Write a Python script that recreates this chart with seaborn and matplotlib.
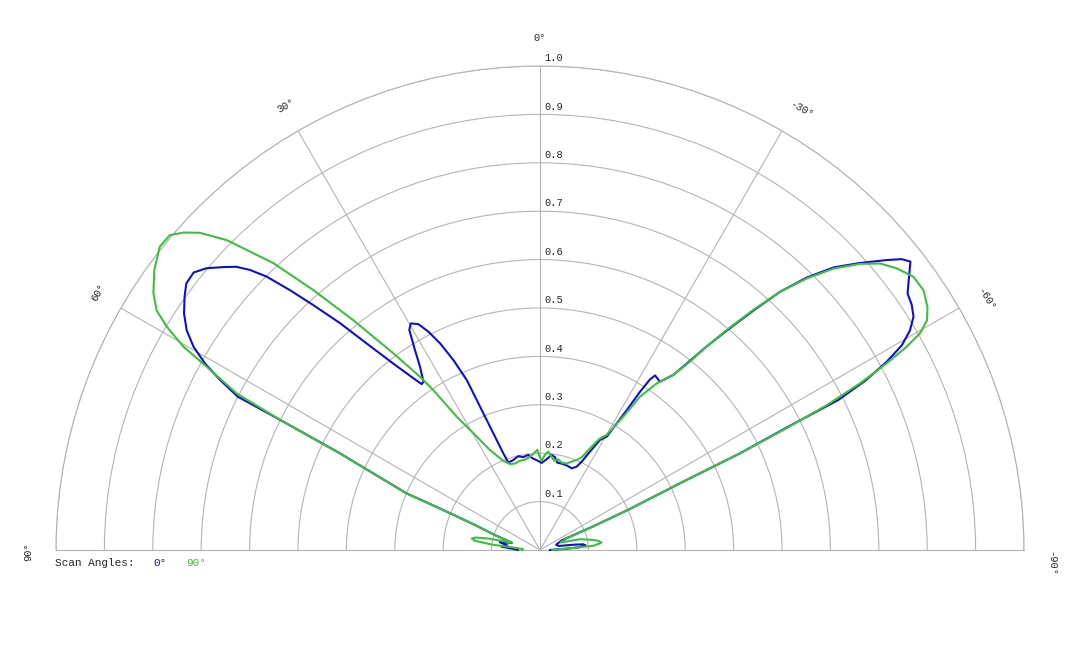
import numpy as np
import pandas as pd
import matplotlib
matplotlib.use('Agg')
import matplotlib.pyplot as plt
import seaborn as sns

# pattern: angle in degrees (positive = left), normalised level
scan0_deg = [90, 87, 85, 82, 79, 76.5, 75.5, 71.5, 69, 67.5, 67, 64.2, 63.4, 63.1, 62.0, 60.9,
             59.6, 58.1, 56.4, 54.5, 53.0, 51.3, 49.8, 48.2, 47.0, 46.0, 45.0, 43.9, 42.8, 41.4,
             40.0, 38.2, 36.4, 35.5, 34.7, 33.2, 31.8, 30.7, 29.7, 28.3, 27.1, 25.8, 24.5, 23.3,
             22.7, 21.8, 20.8, 19.9, 16.5, 13, 10.2, 7, 4.6, 1.7, -1.1, -4.2, -7, -9.2, -11.2,
             -14.8, -18, -21.2, -23.7, -25.3, -26.6, -28.6, -30.5, -31.8, -32.3, -32.8, -33.4,
             -35.5, -37.3, -38.4, -39.3, -40.4, -41.7, -42.9, -44.4, -46.1, -48.1, -50.1, -51.2,
             -52.1, -53.8, -55.1, -56.6, -58.0, -59.3, -60.5, -61.5, -62.5, -63.3, -63.6, -64.2,
             -64.5, -65.5, -66, -66, -72, -78, -81, -82.5, -84.5, -86, -87.5, -90]
scan0_r = [0.045, 0.06, 0.08, 0.068, 0.085, 0.065, 0.06, 0.10, 0.142, 0.22, 0.30, 0.46, 0.60, 0.70,
           0.749, 0.792, 0.830, 0.860, 0.883, 0.902, 0.915, 0.917, 0.902, 0.877, 0.858, 0.833,
           0.799, 0.745, 0.690, 0.625, 0.557, 0.490, 0.441, 0.421, 0.423, 0.453, 0.494, 0.529,
           0.539, 0.530, 0.507, 0.474, 0.431, 0.382, 0.321, 0.260, 0.214, 0.192, 0.194, 0.199,
           0.195, 0.198, 0.190, 0.185, 0.180, 0.188, 0.198, 0.194, 0.184, 0.184, 0.183, 0.181,
           0.188, 0.202, 0.223, 0.259, 0.272, 0.340, 0.387, 0.419, 0.432, 0.427, 0.455, 0.499,
           0.543, 0.595, 0.662, 0.728, 0.788, 0.842, 0.888, 0.934, 0.959, 0.970, 0.944, 0.926,
           0.920, 0.910, 0.889, 0.859, 0.815, 0.758, 0.690, 0.568, 0.459, 0.323, 0.20, 0.12,
           0.05, 0.035, 0.04, 0.07, 0.09, 0.095, 0.08, 0.05, 0.02]

scan90_deg = [90, 87, 85, 83.5, 82, 80.5, 79, 77.5, 76.5, 75.5, 71.5, 69, 67.5, 67, 64.2, 63.4,
              62.7, 61.2, 60.3, 59.1, 58, 56.4, 54, 51.4, 49.6, 48.3, 47, 45.3, 42.9, 41.1, 39.1,
              36.7, 34.7, 33.7, 32, 29.7, 26.6, 22.5, 19.2, 16.1, 12.6, 9.5, 6.6, 4, 1.5, 0.4,
              -1.1, -3, -4.8, -6.7, -8.9, -11.4, -13.9, -17.1, -19.7, -22.2, -24.2, -26.2, -28.1,
              -30.1, -32, -33.1, -35, -37.3, -38.5, -39.3, -40.3, -41.6, -42.9, -44.5, -46.2,
              -48.2, -49.9, -51.7, -53.8, -55.9, -57.9, -59.3, -60.3, -61, -61.7, -62.5, -63.2,
              -63.7, -64.2, -64.5, -65.5, -66, -66.5, -70, -75, -79, -81, -83.2, -85.4, -86.5,
              -88, -90]
scan90_r = [0.037, 0.035, 0.05, 0.10, 0.135, 0.143, 0.135, 0.11, 0.08, 0.06, 0.10, 0.142, 0.22,
            0.30, 0.46, 0.60, 0.705, 0.786, 0.848, 0.899, 0.934, 0.959, 0.985, 1.005, 1.004,
            0.986, 0.961, 0.91, 0.809, 0.713, 0.612, 0.507, 0.435, 0.397, 0.325, 0.278, 0.231,
            0.20, 0.188, 0.186, 0.189, 0.189, 0.193, 0.199, 0.207, 0.194, 0.185, 0.197, 0.204,
            0.196, 0.187, 0.191, 0.186, 0.187, 0.194, 0.201, 0.21, 0.234, 0.26, 0.275, 0.325,
            0.378, 0.42, 0.455, 0.497, 0.543, 0.596, 0.663, 0.728, 0.787, 0.84, 0.887, 0.919,
            0.939, 0.956, 0.957, 0.945, 0.93, 0.904, 0.866, 0.813, 0.745, 0.664, 0.568, 0.459,
            0.32, 0.20, 0.12, 0.06, 0.045, 0.086, 0.11, 0.122, 0.128, 0.111, 0.07, 0.035, 0.025]

scan_names = ['0°', '90°']
scan_colors = ['#1010cc', '#3fbf3f']

radial_ticks = [0.1, 0.2, 0.3, 0.4, 0.5, 0.6, 0.7, 0.8, 0.9, 1.0]
radial_labels = ['0.1', '0.2', '0.3', '0.4', '0.5', '0.6', '0.7', '0.8', '0.9', '1.0']
angle_ticks = [-90, -60, -30, 0, 30, 60, 90]
angle_labels = ['-90°', '-60°', '-30°', '0°', '30°', '60°', '90°']

df = pd.concat([
    pd.DataFrame({'theta': np.deg2rad(scan0_deg), 'level': scan0_r, 'scan': scan_names[0]}),
    pd.DataFrame({'theta': np.deg2rad(scan90_deg), 'level': scan90_r, 'scan': scan_names[1]}),
], ignore_index=True)

sns.set_style('white')
plt.rcParams['font.family'] = ['Liberation Mono', 'DejaVu Sans Mono']

fig = plt.figure(figsize=(10.8, 6.48), dpi=100)
# polar wedge is drawn in the middle band of a square box, so the box is 968 px square
ax = fig.add_axes([56 / 1080, -144 / 648, 968 / 1080, 968 / 648], projection='polar')

sns.lineplot(data=df, x='theta', y='level', hue='scan', hue_order=scan_names,
             palette=dict(zip(scan_names, scan_colors)), sort=False, estimator=None,
             lw=1.5, legend=False, ax=ax)
for line in ax.lines:
    line.set_clip_on(False)
    line.set_zorder(3)

ax.set_theta_zero_location('N')
ax.set_theta_direction(1)
ax.set_thetamin(-90)
ax.set_thetamax(90)
ax.set_ylim(0, 1)
ax.set_xticks(np.deg2rad(angle_ticks))
ax.set_xticklabels([])
ax.set_yticks(radial_ticks)
ax.set_yticklabels([])
ax.tick_params(length=0)
ax.grid(True, color='#b4b4b4', lw=0.8)
for s in ax.spines.values():
    s.set_color('#b4b4b4')
    s.set_linewidth(0.8)
ax.set_xlabel('')
ax.set_ylabel('')

# radial level labels along the 0 deg spoke
for r, lab in zip(radial_ticks, radial_labels):
    ax.annotate(lab, xy=(0, r), xytext=(3, 2), textcoords='offset points',
                ha='left', va='bottom', fontsize=7.5, annotation_clip=False)

# angle labels round the outside
label_pos = {-90: -91.5, -60: -60.6, -30: -30.7, 0: 0, 30: 29.8, 60: 59.8, 90: 90.2}
for a, lab in zip(angle_ticks, angle_labels):
    ax.text(np.deg2rad(label_pos[a]), 1.057, lab, rotation=a, rotation_mode='anchor',
            ha='center', va='center', fontsize=7.5, clip_on=False)

# scan angle key under the plot
fig.text(55 / 1080, 1 - 563 / 648, 'Scan Angles:', fontsize=8, va='center', ha='left')
fig.text(153 / 1080, 1 - 563 / 648, scan_names[0], fontsize=8, va='center', ha='left',
         color=scan_colors[0])
fig.text(186 / 1080, 1 - 563 / 648, scan_names[1], fontsize=8, va='center', ha='left',
         color=scan_colors[1])

fig.savefig('out.png', dpi=100)
